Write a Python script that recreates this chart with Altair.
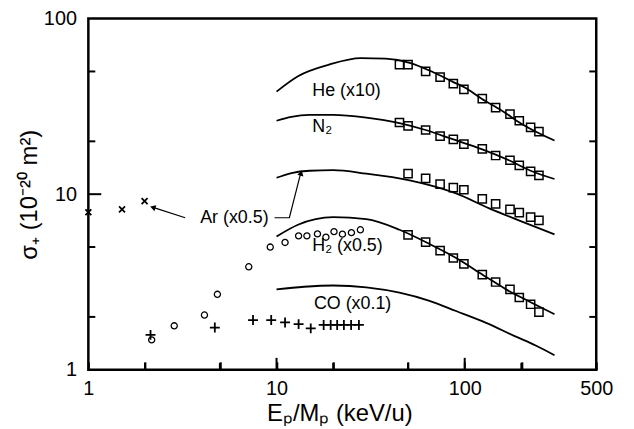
import altair as alt
import pandas as pd

# ---- theory curves ----
he_curve_x = [10, 13, 19, 28, 38, 51, 68, 87, 100, 123, 157, 200, 300]
he_curve_y = [38.4, 47.0, 54.7, 59.6, 59.1, 56.0, 49.5, 43.5, 40.5, 35.0, 30.0, 25.2, 20.2]
n2_curve_x = [10, 12, 15, 20, 30, 45, 62, 87, 124, 174, 224, 300]
n2_curve_y = [26.2, 27.6, 28.3, 28.3, 27.3, 25.4, 23.2, 20.5, 18.0, 15.5, 13.6, 12.2]
ar_curve_x = [10, 12, 15, 20, 30, 51, 90, 135, 200, 300]
ar_curve_y = [12.4, 13.2, 13.6, 13.7, 13.1, 12.0, 10.1, 8.3, 7.0, 5.9]
h2_curve_x = [10, 13, 20, 30, 45, 65, 90, 125, 166, 220, 300]
h2_curve_y = [5.74, 6.7, 7.4, 7.2, 6.27, 5.2, 4.33, 3.47, 2.87, 2.45, 2.07]
co_curve_x = [10, 14, 20, 30, 45, 65, 90, 130, 183, 240, 300]
co_curve_y = [2.87, 2.97, 3.02, 2.95, 2.75, 2.47, 2.16, 1.85, 1.56, 1.37, 1.21]

# ---- measured points (squares) ----
sq_x = [45, 50, 62, 74, 87, 99, 124, 146, 174, 195, 224, 248]
he_sq_y = [54.7, 54.7, 50.1, 46.4, 42.6, 39.5, 35.0, 31.1, 28.6, 26.2, 24.0, 22.7]
n2_sq_y = [25.6, 24.5, 23.2, 21.4, 20.5, 19.3, 18.1, 16.6, 15.6, 14.6, 13.5, 12.8]
ar_sq_x = [50, 62, 74, 87, 99, 124, 146, 174, 195, 224, 248]
ar_sq_y = [13.1, 12.3, 11.4, 10.9, 10.6, 9.4, 8.8, 8.2, 7.85, 7.4, 7.1]
h2_sq_x = [50, 62, 74, 87, 99, 124, 146, 174, 195, 224, 248]
h2_sq_y = [5.86, 5.33, 4.77, 4.33, 4.01, 3.48, 3.16, 2.87, 2.58, 2.36, 2.13]

# ---- low-energy data ----
circle_x = [2.17, 2.86, 4.14, 4.85, 7.12, 9.26, 11.1, 13.1, 14.5, 16.5, 18.3, 20.2, 22.4, 25.0, 27.9]
circle_y = [1.48, 1.78, 2.05, 2.69, 3.86, 5.0, 5.31, 5.79, 5.79, 5.94, 5.69, 6.12, 5.92, 6.04, 6.27]
plus_x = [2.14, 4.7, 7.5, 9.37, 11.1, 13.1, 15.2, 17.8, 19.4, 21.0, 22.8, 24.9, 27.4]
plus_y = [1.58, 1.74, 1.92, 1.92, 1.86, 1.82, 1.72, 1.80, 1.80, 1.80, 1.80, 1.80, 1.80]
cross_x = [1.0, 1.51, 1.99]
cross_y = [7.89, 8.2, 9.12]

# ---- labels ----
label_text = ["He (x10)", "N\u2082", "Ar (x0.5)", "H\u2082 (x0.5)", "CO (x0.1)"]
label_x = [15.5, 15.5, 3.93, 15.5, 15.8]
label_y = [38.7, 24.0, 7.36, 5.08, 2.36]

# arrows for Ar label
conn_grp = ["a", "a", "b", "b", "b"]
conn_x = [3.27, 2.25, 9.76, 11.7, 13.4]
conn_y = [7.34, 8.35, 7.34, 7.34, 13.0]
head_x = [2.2, 13.5]
head_y = [8.41, 13.2]
head_angle = [197.6, 284.6]

# axis labels / ticks
x_labels = [1, 10, 100, 500]
y_labels = [1, 10, 100]
x_tick_values = [1, 2, 5, 10, 20, 50, 100, 200, 500]
x_major = [10, 100]
x_minor = [2, 5, 20, 50, 200]
y_major = [10]
y_minor = [2, 5, 20, 50]

W, H = 512, 354
xs = alt.Scale(type="log", domain=[1, 500], nice=False)
ys = alt.Scale(type="log", domain=[1, 100], nice=False)
FONT = "Liberation Sans"
PX_PER_DECADE_Y = H / 2.0
TICK_IN = 8  # inward tick length on the bottom axis

xaxis = alt.Axis(values=x_tick_values, format="d",
                 labelExpr="indexof(" + str(x_labels) + ", datum.value) >= 0 ? datum.label : ''",
                 ticks=True, tickSize={"expr": str(-TICK_IN)}, tickWidth=2, tickColor="black",
                 domain=False, grid=False,
                 labelFont=FONT, labelFontSize=20, labelColor="black", labelPadding=9 + TICK_IN,
                 labelFlush=False, labelOverlap=False,
                 titleFont=FONT, titleFontSize=24,
                 titleFontWeight="normal", titleColor="black", titleX=253, titleY=51,
                 titleBaseline="alphabetic", titleAlign="center")
yaxis = alt.Axis(values=y_labels, format="d", ticks=False, domain=False, grid=False,
                 labelFont=FONT, labelFontSize=20, labelColor="black", labelPadding=12,
                 labelFlush=False, labelOverlap=False,
                 titleFont=FONT, titleFontSize=24,
                 titleFontWeight="normal", titleColor="black", titleX=-59, titleY=177,
                 titleAngle=-90, titleBaseline="middle", titleAlign="center")
XT = "E\u209A/M\u209A (keV/u)"
YT = "\u03C3\u208A  (10\u207B\u00B2\u2070 m\u00B2)"


def X():
    return alt.X("x:Q", scale=xs, axis=xaxis, title=XT)


def Y():
    return alt.Y("y:Q", scale=ys, axis=yaxis, title=YT)


curves = pd.concat([
    pd.DataFrame({"s": name, "x": cx, "y": cy})
    for name, cx, cy in [("He", he_curve_x, he_curve_y), ("N2", n2_curve_x, n2_curve_y),
                         ("Ar", ar_curve_x, ar_curve_y), ("H2", h2_curve_x, h2_curve_y),
                         ("CO", co_curve_x, co_curve_y)]
])
squares = pd.concat([
    pd.DataFrame({"s": name, "x": px, "y": py})
    for name, px, py in [("He", sq_x, he_sq_y), ("N2", sq_x, n2_sq_y),
                         ("Ar", ar_sq_x, ar_sq_y), ("H2", h2_sq_x, h2_sq_y)]
])

# bottom ticks also as short line segments (longer major ticks)
seg_rows = []
for i, (vals, length) in enumerate([(x_major, 12), (x_minor, 7)]):
    top = 10 ** (length / PX_PER_DECADE_Y)
    for j, v in enumerate(vals):
        g = f"t{i}_{j}"
        seg_rows.append({"g": g, "x": float(v), "y": 1.0, "o": 0})
        seg_rows.append({"g": g, "x": float(v), "y": top, "o": 1})
xtick_layer = alt.Chart(pd.DataFrame(seg_rows)).mark_line(color="black", strokeWidth=2).encode(
    x=X(), y=Y(), detail="g:N", order="o:Q")


def yticks(vals, length, right=False):
    if right:
        x0, x1 = alt.value(W - length), alt.value(W)
    else:
        x0, x1 = alt.value(0), alt.value(length)
    return alt.Chart(pd.DataFrame({"y": [float(v) for v in vals]})).mark_rule(color="black", strokeWidth=2).encode(
        y=Y(), x=x0, x2=x1)


base_curve = alt.Chart(curves).mark_line(color="black", strokeWidth=1.8, interpolate="monotone").encode(
    x=X(), y=Y(), detail="s:N")

sq_layer = alt.Chart(squares).mark_point(shape="square", filled=False, color="black", size=68,
                                         strokeWidth=1.5, opacity=1).encode(x=X(), y=Y())

circ_layer = alt.Chart(pd.DataFrame({"x": circle_x, "y": circle_y})).mark_point(
    shape="circle", filled=False, color="black", size=38, strokeWidth=1.3, opacity=1).encode(x=X(), y=Y())

plus_layer = alt.Chart(pd.DataFrame({"x": plus_x, "y": plus_y})).mark_point(
    shape="M-1,0H1M0,-1V1", filled=False, color="black", size=100, strokeWidth=1.8, opacity=1).encode(x=X(), y=Y())

cross_layer = alt.Chart(pd.DataFrame({"x": cross_x, "y": cross_y})).mark_point(
    shape="M-1,-1L1,1M1,-1L-1,1", filled=False, color="black", size=36, strokeWidth=1.8, opacity=1).encode(x=X(), y=Y())

text_layer = alt.Chart(pd.DataFrame({"x": label_x, "y": label_y, "t": label_text})).mark_text(
    font=FONT, fontSize=18, align="left", baseline="middle", color="black").encode(
    x=X(), y=Y(), text="t:N")

conn_df = pd.DataFrame({"g": conn_grp, "x": conn_x, "y": conn_y, "o": list(range(len(conn_x)))})
conn_layer = alt.Chart(conn_df).mark_line(color="black", strokeWidth=1.2).encode(
    x=X(), y=Y(), detail="g:N", order="o:Q")

head_layer = alt.Chart(pd.DataFrame({"x": head_x, "y": head_y, "a": head_angle})).mark_point(
    shape="triangle-right", filled=True, color="black", size=40, opacity=1).encode(
    x=X(), y=Y(), angle=alt.Angle("a:Q", scale=None))

chart = alt.layer(
    base_curve, sq_layer, circ_layer, plus_layer, cross_layer, text_layer, conn_layer, head_layer,
    xtick_layer,
    yticks(y_major, 13), yticks(y_minor, 7),
    yticks(y_major, 9, right=True), yticks(y_minor, 7, right=True),
).properties(
    width=W, height=H,
    autosize=alt.AutoSizeParams(type="none"),
    padding={"left": 81, "top": 9, "right": 30, "bottom": 55},
    background="white",
).configure_view(stroke="black", strokeWidth=2.5)

chart.save("out.html", embed_options={"renderer": "svg", "actions": False})
